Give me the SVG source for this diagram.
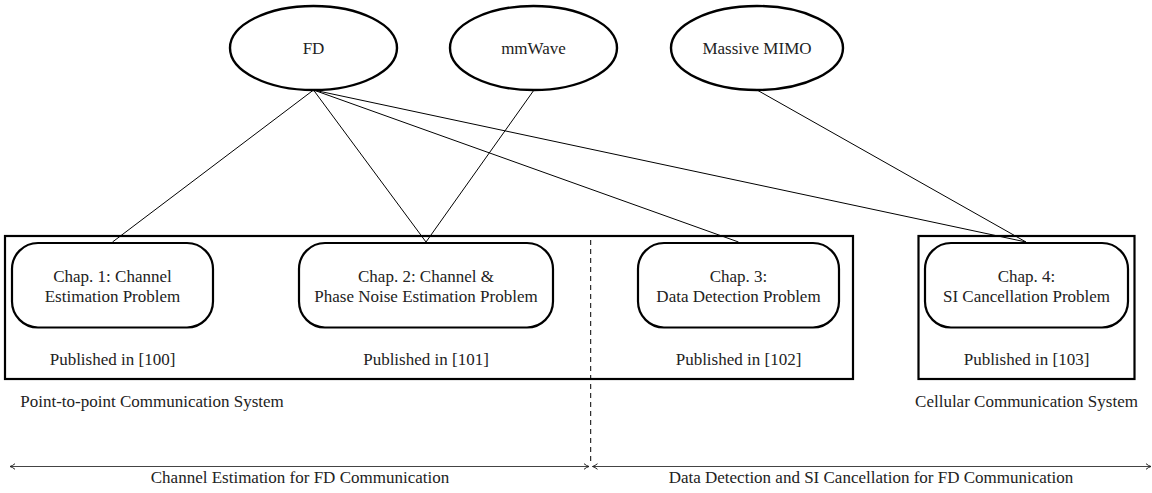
<svg xmlns="http://www.w3.org/2000/svg" width="1152" height="493" viewBox="0 0 1152 493" font-family="'Liberation Serif', 'Times New Roman', serif">
<defs>
<style>
text{font-family:'Liberation Serif','Times New Roman',serif;font-size:17px;fill:#222;text-anchor:middle}
.ell{fill:#fff;stroke:#000;stroke-width:2.4}
.chap{fill:#fff;stroke:#000;stroke-width:2.2}
.outer{fill:none;stroke:#000;stroke-width:2.2}
.conn{stroke:#000;stroke-width:1;fill:none}
.span{stroke:#444;stroke-width:1.2;fill:none}
</style>
<marker id="tip" viewBox="0 0 8 8" refX="7" refY="4" markerWidth="8" markerHeight="8" markerUnits="userSpaceOnUse" orient="auto-start-reverse">
<path d="M2,1.2 Q4.5,3.3 7,4 Q4.5,4.7 2,6.8" fill="none" stroke="#222" stroke-width="1"/>
</marker>
</defs>
<rect width="1152" height="493" fill="#fff"/>
<g id="connectors">
<line class="conn" x1="313.5" y1="90" x2="112.5" y2="242"/>
<line class="conn" x1="313.5" y1="90" x2="426" y2="242"/>
<line class="conn" x1="313.5" y1="90" x2="738.5" y2="242"/>
<line class="conn" x1="313.5" y1="90" x2="1026" y2="242"/>
<line class="conn" x1="534" y1="90" x2="426" y2="242"/>
<line class="conn" x1="757" y1="90" x2="1026" y2="242"/>
</g>
<g id="node-fd"><ellipse class="ell" cx="313.5" cy="48" rx="83.5" ry="42"/><text x="313.5" y="54">FD</text></g>
<g id="node-mmwave"><ellipse class="ell" cx="533.5" cy="48" rx="83.5" ry="42"/><text x="533.5" y="54">mmWave</text></g>
<g id="node-mimo"><ellipse class="ell" cx="757" cy="48" rx="86" ry="42"/><text x="757" y="54">Massive MIMO</text></g>
<g id="group-p2p"><rect class="outer" x="5" y="236" width="848" height="143"/><text x="152" y="407">Point-to-point Communication System</text></g>
<g id="group-cellular"><rect class="outer" x="918.5" y="236" width="216" height="143"/><text x="1026.5" y="407">Cellular Communication System</text></g>
<g id="node-chap1"><rect class="chap" x="12" y="243" width="201" height="84.5" rx="26" ry="26"/><text x="112.5" y="281.7">Chap. 1: Channel</text><text x="112.5" y="301.7">Estimation Problem</text><text x="112.5" y="364.5">Published in [100]</text></g>
<g id="node-chap2"><rect class="chap" x="299" y="243" width="254" height="84.5" rx="26" ry="26"/><text x="426" y="281.7">Chap. 2: Channel &amp;</text><text x="426" y="301.7">Phase Noise Estimation Problem</text><text x="426" y="364.5">Published in [101]</text></g>
<g id="node-chap3"><rect class="chap" x="638" y="243" width="201" height="84.5" rx="26" ry="26"/><text x="738.5" y="281.7">Chap. 3:</text><text x="738.5" y="301.7">Data Detection Problem</text><text x="738.5" y="364.5">Published in [102]</text></g>
<g id="node-chap4"><rect class="chap" x="925" y="243" width="203" height="84.5" rx="26" ry="26"/><text x="1026.5" y="281.7">Chap. 4:</text><text x="1026.5" y="301.7">SI Cancellation Problem</text><text x="1026.5" y="364.5">Published in [103]</text></g>
<g id="spans">
<line x1="590.7" y1="240" x2="590.7" y2="464" stroke="#000" stroke-width="1" stroke-dasharray="5,4"/>
<line class="span" x1="10" y1="466.5" x2="589" y2="466.5" marker-start="url(#tip)" marker-end="url(#tip)"/>
<line class="span" x1="592.5" y1="466.5" x2="1151" y2="466.5" marker-start="url(#tip)" marker-end="url(#tip)"/>
<text x="300" y="483">Channel Estimation for FD Communication</text>
<text x="871" y="483">Data Detection and SI Cancellation for FD Communication</text>
</g>
</svg>
